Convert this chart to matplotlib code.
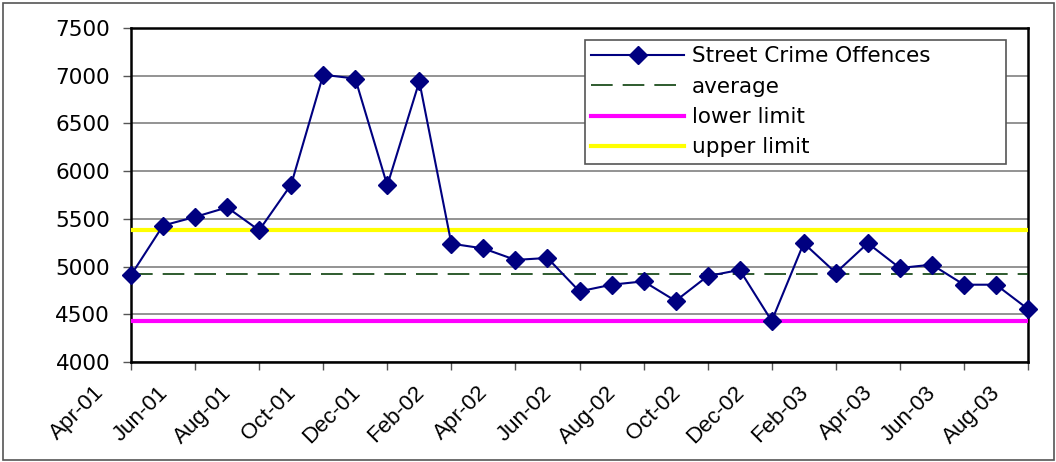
import numpy as np
import matplotlib.pyplot as plt
import matplotlib.transforms as mtransforms
from matplotlib.patches import Rectangle

plt.rcParams["font.family"] = "DejaVu Sans"

months = ['Apr-01', 'May-01', 'Jun-01', 'Jul-01', 'Aug-01', 'Sep-01', 'Oct-01', 'Nov-01',
          'Dec-01', 'Jan-02', 'Feb-02', 'Mar-02', 'Apr-02', 'May-02', 'Jun-02', 'Jul-02',
          'Aug-02', 'Sep-02', 'Oct-02', 'Nov-02', 'Dec-02', 'Jan-03', 'Feb-03', 'Mar-03',
          'Apr-03', 'May-03', 'Jun-03', 'Jul-03', 'Aug-03']
offences = [4910, 5430, 5520, 5620, 5380, 5860, 7010, 6970, 5850, 6940,
            5240, 5190, 5070, 5090, 4740, 4810, 4845, 4640, 4900, 4965,
            4430, 5245, 4935, 5245, 4985, 5020, 4810, 4810, 4555]
average = 4917
lower_limit = 4427
upper_limit = 5383

x = np.arange(len(months))

fig = plt.figure(figsize=(10.56, 4.62), dpi=100)
ax = fig.add_axes([131/1056, 1-362/462, (1028-131)/1056, (362-28)/462])

# outer chart border
fig.patches.append(Rectangle((3/1056, 2/462), 1051/1056, 457/462, transform=fig.transFigure,
                             fill=False, edgecolor='#555555', linewidth=1.2))

ax.plot(x, [average]*len(x), color='#0a400a', linestyle=(0, (13, 6)), linewidth=1.2, label='average', zorder=3)
ax.plot(x, [lower_limit]*len(x), color='#ff00ff', linewidth=3, label='lower limit', zorder=3)
ax.plot(x, [upper_limit]*len(x), color='#ffff00', linewidth=3, label='upper limit', zorder=3)
ax.plot(x, offences, color='#000080', marker='D', markersize=9.5, linewidth=1.5,
        label='Street Crime Offences', zorder=4, clip_on=False)

ax.set_xlim(0, len(x)-1)
ax.set_ylim(4000, 7500)
ax.set_yticks(np.arange(4000, 7501, 500))
ax.yaxis.grid(True, color='#808080', linewidth=1.2)
ax.set_axisbelow(True)

ax.set_xticks(x[::2])
ax.set_xticklabels(months[::2], rotation=45, ha='right', va='top', rotation_mode='anchor',
                   family='Liberation Sans')

ax.tick_params(axis='both', length=6, width=1, color='#555555', direction='out')
ax.tick_params(axis='x', labelsize=16, pad=2)
ax.tick_params(axis='y', labelsize=15.5, pad=9)
offset = mtransforms.ScaledTranslation(-0.38, -0.09, fig.dpi_scale_trans)
for lab in ax.get_xticklabels():
    lab.set_transform(lab.get_transform() + offset)

for s in ax.spines.values():
    s.set_linewidth(1.8)
    s.set_color('black')

handles, labels = ax.get_legend_handles_labels()
order = [3, 0, 1, 2]
leg = ax.legend([handles[i] for i in order], [labels[i] for i in order],
                loc='upper left', mode='expand',
                bbox_to_anchor=(585/1056, 1-163/462, 421/1056, 123/462), bbox_transform=fig.transFigure,
                fontsize=15.5, frameon=True, fancybox=False, edgecolor='#555555', framealpha=1,
                handlelength=4.3, borderpad=0.3, borderaxespad=0, labelspacing=0.48,
                handletextpad=0.35)
leg.get_frame().set_linewidth(1.2)

fig.savefig('out.png', dpi=100)
